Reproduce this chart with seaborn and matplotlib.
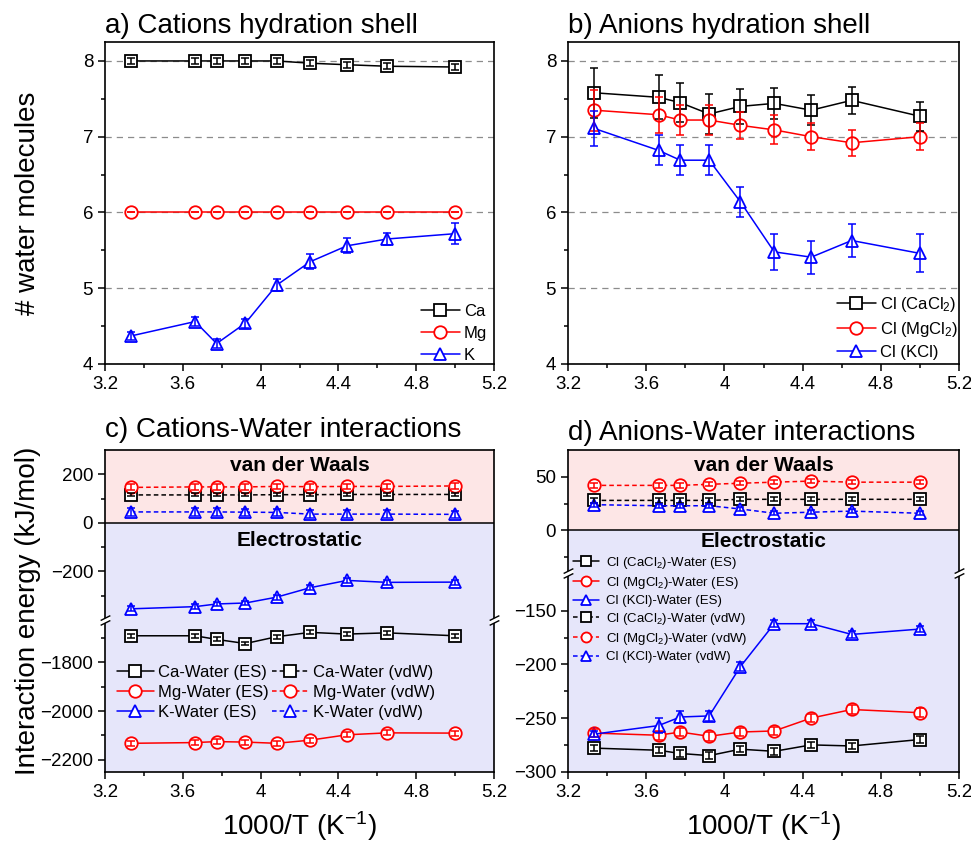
import matplotlib
matplotlib.use("Agg")
import matplotlib.pyplot as plt
from matplotlib.path import Path
from matplotlib.lines import Line2D
from matplotlib.ticker import MultipleLocator, FixedLocator, FuncFormatter
import matplotlib.transforms as mtransforms
import seaborn as sns

# ---------------- data ----------------
inv_T = [3.333, 3.663, 3.774, 3.922, 4.082, 4.255, 4.444, 4.651, 5.000]

# a) cations hydration shell
n_Ca = [8.00, 8.00, 8.00, 8.00, 8.00, 7.97, 7.95, 7.93, 7.92]
n_Ca_err = [0.04, 0.04, 0.04, 0.04, 0.04, 0.04, 0.04, 0.04, 0.04]
n_Mg = [6.00, 6.00, 6.00, 6.00, 6.00, 6.00, 6.00, 6.00, 6.00]
n_K = [4.37, 4.56, 4.27, 4.54, 5.04, 5.35, 5.56, 5.65, 5.72]
n_K_err = [0.05, 0.06, 0.06, 0.06, 0.08, 0.10, 0.10, 0.08, 0.14]

# b) anions hydration shell
n_ClCa = [7.58, 7.52, 7.45, 7.30, 7.40, 7.44, 7.35, 7.48, 7.27]
n_ClCa_err = [0.33, 0.29, 0.26, 0.26, 0.23, 0.20, 0.20, 0.18, 0.19]
n_ClMg = [7.35, 7.29, 7.22, 7.22, 7.15, 7.09, 7.00, 6.92, 7.00]
n_ClMg_err = [0.27, 0.24, 0.20, 0.20, 0.18, 0.19, 0.18, 0.17, 0.18]
n_ClK = [7.11, 6.82, 6.69, 6.69, 6.14, 5.48, 5.41, 5.63, 5.46]
n_ClK_err = [0.23, 0.20, 0.20, 0.20, 0.20, 0.24, 0.22, 0.22, 0.25]

# c) cations-water interaction energies (kJ/mol)
E_Ca_ES = [-1690, -1690, -1705, -1722, -1694, -1676, -1683, -1678, -1690]
E_Ca_ES_err = [8, 8, 8, 8, 8, 8, 8, 8, 8]
E_Mg_ES = [-2133, -2130, -2126, -2128, -2133, -2120, -2098, -2090, -2091]
E_Mg_ES_err = [10, 10, 10, 10, 10, 10, 10, 10, 10]
E_K_ES = [-354, -345, -334, -330, -306, -267, -237, -245, -244]
E_K_ES_err = [10, 10, 10, 10, 10, 10, 10, 10, 10]
E_Ca_vdW = [115, 115, 115, 115, 116, 116, 117, 117, 117]
E_Ca_vdW_err = [6, 6, 6, 6, 6, 6, 6, 6, 6]
E_Mg_vdW = [146, 148, 148, 148, 150, 149, 150, 150, 152]
E_Mg_vdW_err = [12, 12, 12, 12, 12, 12, 12, 12, 12]
E_K_vdW = [45, 45, 45, 44, 43, 36, 36, 36, 35]
E_K_vdW_err = [15, 15, 15, 15, 15, 15, 15, 15, 15]

# d) anions-water interaction energies (kJ/mol)
E_ClCa_ES = [-278, -280, -283, -285, -279, -281, -275, -276, -270]
E_ClCa_ES_err = [3, 3, 3, 3, 3, 3, 3, 3, 3]
E_ClMg_ES = [-264, -266, -263, -267, -263, -262, -250, -242, -245]
E_ClMg_ES_err = [4, 4, 4, 4, 4, 4, 4, 4, 4]
E_ClK_ES = [-265, -257, -249, -248, -202, -162, -162, -172, -167]
E_ClK_ES_err = [3, 7, 6, 5, 4, 3, 3, 3, 3]
E_ClCa_vdW = [28, 28, 28, 28, 29, 29, 29, 29, 29]
E_ClCa_vdW_err = [2, 2, 2, 2, 2, 2, 2, 2, 2]
E_ClMg_vdW = [42, 42, 42, 43, 44, 45, 46, 45, 45]
E_ClMg_vdW_err = [2, 2, 2, 2, 2, 2, 2, 2, 2]
E_ClK_vdW = [24, 23, 23, 23, 20, 16, 17, 18, 16]
E_ClK_vdW_err = [2, 2, 2, 2, 2, 2, 2, 2, 2]

# ---------------- style ----------------
sns.set_theme(style="ticks")
plt.rcParams["font.family"] = ["Liberation Sans", "DejaVu Sans"]
plt.rcParams["mathtext.fontset"] = "custom"
plt.rcParams["mathtext.rm"] = "Liberation Sans"
plt.rcParams["mathtext.it"] = "Liberation Sans:italic"
plt.rcParams["mathtext.bf"] = "Liberation Sans:bold"
plt.rcParams["axes.unicode_minus"] = True
for k in ("text.color", "axes.labelcolor", "xtick.color", "ytick.color",
          "axes.edgecolor", "xtick.labelcolor", "ytick.labelcolor"):
    plt.rcParams[k] = "black"

BLACK, RED, BLUE = "#000000", "#ff0000", "#0000ff"
PINK, LAV = "#fde6e6", "#e6e6fa"
TICK_FS, TITLE_FS, LABEL_FS = 13.5, 20, 20
MS = 9

W, H = 971, 843
fig = plt.figure(figsize=(W / 100, H / 100), dpi=100)


def rect(left, top, right, bottom):
    return [left / W, 1 - bottom / H, (right - left) / W, (bottom - top) / H]


fmt = FuncFormatter(lambda v, p: f"{v:g}".replace("-", "\u2212"))


def style_axes(ax):
    for s in ax.spines.values():
        s.set_color("black")
        s.set_linewidth(1.2)
    ax.tick_params(which="both", direction="out", color="black", width=1.1,
                   labelsize=TICK_FS, labelcolor="black", right=False, top=False)
    ax.tick_params(which="major", length=5)
    ax.tick_params(which="minor", length=3)
    ax.set_xlim(3.2, 5.2)
    ax.xaxis.set_major_locator(MultipleLocator(0.4))
    ax.xaxis.set_minor_locator(MultipleLocator(0.2))
    ax.xaxis.set_major_formatter(fmt)
    ax.yaxis.set_major_formatter(fmt)
    ax.set_xlabel("")
    ax.set_ylabel("")


def series(ax, y, err, color, marker, dashed=False, label=None):
    sns.lineplot(x=inv_T, y=y, ax=ax, color=color, marker=marker, markersize=MS,
                 markerfacecolor="white", markeredgecolor=color, markeredgewidth=1.3,
                 linewidth=1.1, linestyle=(0, (3, 2)) if dashed else "-",
                 legend=False, zorder=3)
    line = ax.lines[-1]
    if label is not None:
        line.set_label(label)
    ax.errorbar(inv_T, y, yerr=err, fmt="none", ecolor=color, elinewidth=1.1,
                capsize=3, capthick=1.1, zorder=4)
    return line


# ---------------- panel a ----------------
axa = fig.add_axes(rect(105, 42, 494, 364))
ha = [series(axa, n_Ca, n_Ca_err, BLACK, "s", label="Ca"),
      series(axa, n_Mg, [0] * 9, RED, "o", label="Mg"),
      series(axa, n_K, n_K_err, BLUE, "^", label="K")]
style_axes(axa)
axa.set_ylim(4, 8.25)
axa.yaxis.set_major_locator(MultipleLocator(1))
axa.yaxis.set_minor_locator(MultipleLocator(0.5))
axa.yaxis.grid(True, which="major", linestyle=(0, (5, 4)), color="#8c8c8c", linewidth=0.9)
axa.set_axisbelow(True)
axa.set_title("a) Cations hydration shell", loc="left", fontsize=TITLE_FS, pad=6.5)
axa.legend(handles=ha, loc="lower right", bbox_to_anchor=(487 / W, 1 - 363 / H),
           bbox_transform=fig.transFigure, frameon=False, fontsize=12, borderpad=0,
           borderaxespad=0, handlelength=2.3, handletextpad=0.25, labelspacing=0.42)

# ---------------- panel b ----------------
axb = fig.add_axes(rect(568, 42, 959, 364))
hb = [series(axb, n_ClCa, n_ClCa_err, BLACK, "s", label="Cl (CaCl$_2$)"),
      series(axb, n_ClMg, n_ClMg_err, RED, "o", label="Cl (MgCl$_2$)"),
      series(axb, n_ClK, n_ClK_err, BLUE, "^", label="Cl (KCl)")]
style_axes(axb)
axb.set_ylim(4, 8.25)
axb.yaxis.set_major_locator(MultipleLocator(1))
axb.yaxis.set_minor_locator(MultipleLocator(0.5))
axb.yaxis.grid(True, which="major", linestyle=(0, (5, 4)), color="#8c8c8c", linewidth=0.9)
axb.set_axisbelow(True)
axb.set_title("b) Anions hydration shell", loc="left", fontsize=TITLE_FS, pad=6.5)
axb.legend(handles=hb, loc="lower right", bbox_to_anchor=(958 / W, 1 - 360 / H),
           bbox_transform=fig.transFigure, frameon=False, fontsize=12, borderpad=0,
           borderaxespad=0, handlelength=2.3, handletextpad=0.25, labelspacing=0.36)


# ---------------- broken axes helpers ----------------
def broken_pair(left, right, top, brk, bottom):
    at = fig.add_axes(rect(left, top, right, brk))
    ab = fig.add_axes(rect(left, brk, right, bottom))
    at.set_facecolor(LAV)
    ab.set_facecolor(LAV)
    return at, ab


def finish_pair(at, ab, top_lim, bot_lim):
    style_axes(at)
    style_axes(ab)
    at.set_ylim(*top_lim)
    ab.set_ylim(*bot_lim)
    at.axhspan(0, top_lim[1], color=PINK, zorder=0, lw=0)
    at.axhline(0, color="black", lw=1.1, zorder=1)
    at.spines["bottom"].set_visible(False)
    ab.spines["top"].set_visible(False)
    at.tick_params(axis="x", which="both", bottom=False, labelbottom=False)
    # break marks
    gap = Path([(-1, -1), (1, 0), (1, 1), (-1, 0), (-1, -1)],
               [Path.MOVETO, Path.LINETO, Path.LINETO, Path.LINETO, Path.CLOSEPOLY])
    slashes = Path([(-1, -1), (1, 0), (-1, 0), (1, 1)],
                   [Path.MOVETO, Path.LINETO, Path.MOVETO, Path.LINETO])
    for xa in (0, 1):
        fig.add_artist(Line2D([xa], [1], transform=ab.transAxes, marker=gap,
                              markersize=7, markerfacecolor="white",
                              markeredgecolor="none", linestyle="none", zorder=5))
        fig.add_artist(Line2D([xa], [1], transform=ab.transAxes, marker=slashes,
                              markersize=7, markeredgecolor="black",
                              markeredgewidth=1.0, linestyle="none", zorder=6))


def region_labels(at, y_vdw, y_es):
    tr = mtransforms.blended_transform_factory(at.transAxes, at.transData)
    at.text(0.5, y_vdw, "van der Waals", transform=tr, ha="center", va="center",
            fontsize=15, fontweight="bold", color="black", zorder=6)
    at.text(0.5, y_es, "Electrostatic", transform=tr, ha="center", va="center",
            fontsize=15, fontweight="bold", color="black", zorder=6)


# ---------------- panel c ----------------
c_top, c_bot = (-400, 300), (-2250, -1625)
ct, cb = broken_pair(105, 494, 450, 620.0, 771.7)
h_ca_es = series(cb, E_Ca_ES, E_Ca_ES_err, BLACK, "s", label="Ca-Water (ES)")
h_mg_es = series(cb, E_Mg_ES, E_Mg_ES_err, RED, "o", label="Mg-Water (ES)")
h_k_es = series(ct, E_K_ES, E_K_ES_err, BLUE, "^", label="K-Water (ES)")
h_ca_v = series(ct, E_Ca_vdW, E_Ca_vdW_err, BLACK, "s", dashed=True, label="Ca-Water (vdW)")
h_mg_v = series(ct, E_Mg_vdW, E_Mg_vdW_err, RED, "o", dashed=True, label="Mg-Water (vdW)")
h_k_v = series(ct, E_K_vdW, E_K_vdW_err, BLUE, "^", dashed=True, label="K-Water (vdW)")
finish_pair(ct, cb, c_top, c_bot)
ct.yaxis.set_major_locator(FixedLocator([-200, 0, 200]))
ct.yaxis.set_minor_locator(FixedLocator([-300, -100, 100]))
cb.yaxis.set_major_locator(FixedLocator([-2200, -2000, -1800]))
cb.yaxis.set_minor_locator(FixedLocator([-2100, -1900, -1700]))
region_labels(ct, 238, -74)
ct.set_title("c) Cations-Water interactions", loc="left", fontsize=TITLE_FS, pad=9)
cb.legend(handles=[h_ca_es, h_mg_es, h_k_es, h_ca_v, h_mg_v, h_k_v], ncol=2,
          loc="upper left", bbox_to_anchor=(117 / W, 1 - 665 / H),
          bbox_transform=fig.transFigure, frameon=False, fontsize=12, borderpad=0,
          borderaxespad=0, handlelength=2.2, handletextpad=0.25, labelspacing=0.3,
          columnspacing=0.2)

# ---------------- panel d ----------------
d_top, d_bot = (-40, 75), (-300, -115)
dt, db = broken_pair(568, 959, 450, 573.3, 771.7)
g1 = series(db, E_ClCa_ES, E_ClCa_ES_err, BLACK, "s", label="Cl (CaCl$_2$)-Water (ES)")
g2 = series(db, E_ClMg_ES, E_ClMg_ES_err, RED, "o", label="Cl (MgCl$_2$)-Water (ES)")
g3 = series(db, E_ClK_ES, E_ClK_ES_err, BLUE, "^", label="Cl (KCl)-Water (ES)")
g4 = series(dt, E_ClCa_vdW, E_ClCa_vdW_err, BLACK, "s", dashed=True, label="Cl (CaCl$_2$)-Water (vdW)")
g5 = series(dt, E_ClMg_vdW, E_ClMg_vdW_err, RED, "o", dashed=True, label="Cl (MgCl$_2$)-Water (vdW)")
g6 = series(dt, E_ClK_vdW, E_ClK_vdW_err, BLUE, "^", dashed=True, label="Cl (KCl)-Water (vdW)")
finish_pair(dt, db, d_top, d_bot)
dt.yaxis.set_major_locator(FixedLocator([0, 50]))
dt.yaxis.set_minor_locator(FixedLocator([-25, 25]))
db.yaxis.set_major_locator(FixedLocator([-300, -250, -200, -150]))
db.yaxis.set_minor_locator(FixedLocator([-275, -225, -175]))
region_labels(dt, 61, -10.5)
dt.set_title("d) Anions-Water interactions", loc="left", fontsize=TITLE_FS, pad=7)
fig.legend(handles=[g1, g2, g3, g4, g5, g6], loc="upper left",
           bbox_to_anchor=(573 / W, 1 - 555 / H), frameon=False, fontsize=9.5,
           borderpad=0, borderaxespad=0, handlelength=2.0, handletextpad=0.5,
           labelspacing=0.3, markerscale=0.8)

# ---------------- axis labels ----------------
fig.text(28 / W, 1 - 203 / H, "# water molecules", rotation=90, ha="center",
         va="center", fontsize=LABEL_FS)
fig.text(28 / W, 1 - 611 / H, "Interaction energy (kJ/mol)", rotation=90,
         ha="center", va="center", fontsize=LABEL_FS)
fig.text(299.5 / W, 1 - 835 / H, "1000/T (K$^{-1}$)", ha="center", va="baseline",
         fontsize=LABEL_FS)
fig.text(763.5 / W, 1 - 835 / H, "1000/T (K$^{-1}$)", ha="center", va="baseline",
         fontsize=LABEL_FS)

fig.savefig("out.png", dpi=100, facecolor="white")
